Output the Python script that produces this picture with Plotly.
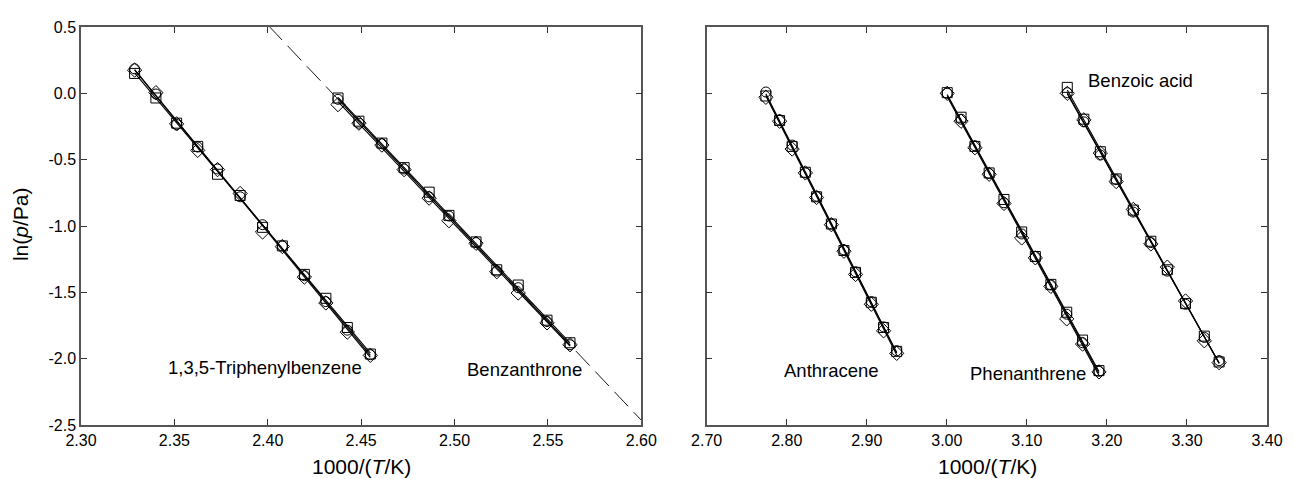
import numpy as np
import plotly.graph_objects as go

# ---------------- data ----------------
tpb_x = [2.3287, 2.3401, 2.3512, 2.3625, 2.3731, 2.3852, 2.3972, 2.4078, 2.4196, 2.4311, 2.4426, 2.4549]
tpb_circ = [0.185, -0.005, -0.235, -0.405, -0.570, -0.780, -0.990, -1.150, -1.375, -1.570, -1.785, -1.970]
tpb_sq = [0.150, -0.035, -0.225, -0.400, -0.610, -0.770, -1.010, -1.150, -1.365, -1.545, -1.765, -1.965]
tpb_dia = [0.175, 0.005, -0.230, -0.430, -0.575, -0.755, -1.045, -1.155, -1.385, -1.580, -1.800, -1.975]

bza_x = [2.4376, 2.4488, 2.4611, 2.4730, 2.4864, 2.4970, 2.5115, 2.5226, 2.5341, 2.5495, 2.5618]
bza_circ = [-0.045, -0.225, -0.380, -0.570, -0.780, -0.925, -1.125, -1.340, -1.465, -1.720, -1.895]
bza_sq = [-0.035, -0.210, -0.375, -0.560, -0.745, -0.920, -1.120, -1.330, -1.445, -1.710, -1.880]
bza_dia = [-0.085, -0.225, -0.390, -0.575, -0.790, -0.960, -1.130, -1.345, -1.505, -1.730, -1.895]

ant_x = [2.7740, 2.7911, 2.8068, 2.8233, 2.8373, 2.8558, 2.8715, 2.8860, 2.9057, 2.9210, 2.9374]
ant_circ = [0.010, -0.200, -0.390, -0.600, -0.775, -0.985, -1.180, -1.345, -1.570, -1.760, -1.940]
ant_sq = [-0.020, -0.205, -0.400, -0.595, -0.780, -0.985, -1.185, -1.350, -1.575, -1.765, -1.945]
ant_dia = [-0.030, -0.210, -0.420, -0.600, -0.785, -0.990, -1.190, -1.365, -1.590, -1.790, -1.960]

phe_x = [3.0005, 3.0178, 3.0351, 3.0529, 3.0714, 3.0935, 3.1106, 3.1300, 3.1498, 3.1696, 3.1901]
phe_circ = [0.000, -0.195, -0.395, -0.605, -0.825, -1.060, -1.230, -1.445, -1.665, -1.880, -2.095]
phe_sq = [0.005, -0.180, -0.400, -0.600, -0.800, -1.045, -1.230, -1.440, -1.650, -1.860, -2.090]
phe_dia = [0.000, -0.210, -0.410, -0.610, -0.830, -1.090, -1.240, -1.455, -1.700, -1.890, -2.100]

bzo_x = [3.1505, 3.1712, 3.1918, 3.2116, 3.2330, 3.2549, 3.2755, 3.2982, 3.3217, 3.3402]
bzo_circ = [0.005, -0.215, -0.465, -0.650, -0.895, -1.125, -1.340, -1.590, -1.840, -2.015]
bzo_sq = [0.045, -0.195, -0.440, -0.645, -0.880, -1.115, -1.330, -1.585, -1.830, -2.025]
bzo_dia = [0.000, -0.200, -0.450, -0.665, -0.875, -1.135, -1.310, -1.565, -1.865, -2.030]

labels = ["1,3,5-Triphenylbenzene", "Benzanthrone", "Anthracene", "Phenanthrene", "Benzoic acid"]
label_x = [2.3983, 2.5374, 2.8556, 3.1013, 3.2414]
label_y = [-2.065, -2.082, -2.089, -2.114, 0.099]
label_panel = [1, 1, 2, 2, 2]

left_xticks = [2.30, 2.35, 2.40, 2.45, 2.50, 2.55, 2.60]
right_xticks = [2.70, 2.80, 2.90, 3.00, 3.10, 3.20, 3.30, 3.40]
yticks = [-2.5, -2.0, -1.5, -1.0, -0.5, 0.0, 0.5]
extrap_x_range = [2.39, 2.60]

# ---------------- figure ----------------
fig = go.Figure()
FONT = "Liberation Sans, Arial, Helvetica, sans-serif"

compounds = [
    (tpb_x, [tpb_circ, tpb_sq, tpb_dia], 1),
    (bza_x, [bza_circ, bza_sq, bza_dia], 1),
    (ant_x, [ant_circ, ant_sq, ant_dia], 2),
    (phe_x, [phe_circ, phe_sq, phe_dia], 2),
    (bzo_x, [bzo_circ, bzo_sq, bzo_dia], 2),
]
symbols = ["circle-open", "square-open", "diamond-open"]

for xs, series, panel in compounds:
    xa = "x" if panel == 1 else "x2"
    ya = "y" if panel == 1 else "y2"
    xs_arr = np.array(xs)
    for ys, sym in zip(series, symbols):
        k, b = np.polyfit(xs_arr, np.array(ys), 1)
        xl = np.array([xs_arr.min(), xs_arr.max()])
        fig.add_trace(go.Scatter(x=xl, y=k * xl + b, mode="lines",
                                 line=dict(color="black", width=1.1),
                                 xaxis=xa, yaxis=ya, showlegend=False, hoverinfo="skip"))
    for ys, sym in zip(series, symbols):
        fig.add_trace(go.Scatter(x=xs, y=ys, mode="markers",
                                 marker=dict(symbol=sym, size=10 if sym != "diamond-open" else 11,
                                             color="black", line=dict(color="black", width=1)),
                                 xaxis=xa, yaxis=ya, showlegend=False))

# dashed extrapolation of the benzanthrone fit
kb, bb = np.polyfit(np.array(bza_x), np.array(bza_circ), 1)
xe = np.array(extrap_x_range)
fig.add_trace(go.Scatter(x=xe, y=kb * xe + bb, mode="lines",
                         line=dict(color="black", width=0.9, dash="20px,8px"),
                         xaxis="x", yaxis="y", showlegend=False, hoverinfo="skip"))

for txt, lx, ly, p in zip(labels, label_x, label_y, label_panel):
    fig.add_annotation(x=lx, y=ly, text=txt, showarrow=False,
                       xref="x" if p == 1 else "x2", yref="y" if p == 1 else "y2",
                       font=dict(family=FONT, size=18.5, color="black"))

axis_common = dict(showline=True, linecolor="#555", linewidth=1.5, mirror="allticks",
                   ticks="inside", ticklen=6, tickwidth=1, tickcolor="#333",
                   showgrid=False, zeroline=False,
                   tickfont=dict(family=FONT, size=16, color="black"))

# the page body has an 8px margin, so the figure is drawn 8px smaller
fig.update_layout(
    width=1286, height=471,
    margin=dict(l=73, r=15, t=11, b=54),
    paper_bgcolor="white", plot_bgcolor="white",
    xaxis=dict(domain=[0, 566 / 1198], range=[2.30, 2.60], tickvals=left_xticks,
               ticktext=[f"{v:.2f}" for v in left_xticks], anchor="y", **axis_common),
    yaxis=dict(domain=[0, 1], range=[-2.5, 0.5], tickvals=yticks,
               ticktext=[f"{v:.1f}" for v in yticks], anchor="x", **axis_common),
    xaxis2=dict(domain=[632 / 1198, 1], range=[2.70, 3.40], tickvals=right_xticks,
                ticktext=[f"{v:.2f}" for v in right_xticks], anchor="y2", **axis_common),
    yaxis2=dict(domain=[0, 1], range=[-2.5, 0.5], tickvals=yticks, showticklabels=False,
                anchor="x2", **axis_common),
)

# axis titles
for cx in [0.2362, 0.7646]:
    fig.add_annotation(x=cx, y=-0.1034, xref="paper", yref="paper",
                       text="1000/(<i>T</i>/K)", showarrow=False,
                       xanchor="center", yanchor="middle",
                       font=dict(family=FONT, size=21, color="black"))
fig.add_annotation(x=-0.0509, y=0.504, xref="paper", yref="paper",
                   text="ln(<i>p</i>/Pa)", showarrow=False, textangle=-90,
                   xanchor="center", yanchor="middle",
                   font=dict(family=FONT, size=21, color="black"))

fig.write_html("out.html")
